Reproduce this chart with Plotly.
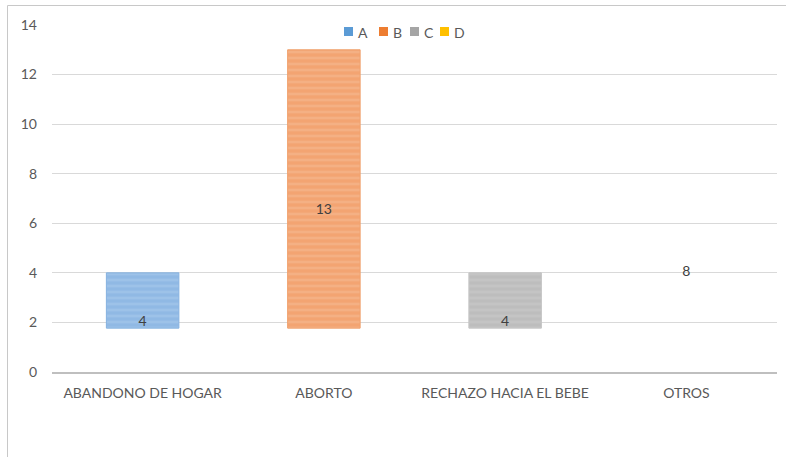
import plotly.graph_objects as go

categories = ["ABANDONO DE HOGAR", "ABORTO", "RECHAZO HACIA EL BEBE", "OTROS"]
series_names = ["A", "B", "C", "D"]
values = [4, 13, 4, 8]
label_text = ["4", "13", "4", "8"]
y_ticks = [0, 2, 4, 6, 8, 10, 12, 14]

legend_colors = ["#5b9bd5", "#ed7d31", "#a5a5a5", "#ffc000"]
fill_colors = ["#90b9e4", "#f3a472", "#bdbdbd", "rgba(0,0,0,0)"]
stripe_colors = ["#a9cbec", "#f6bb95", "#cbcbcb", "rgba(0,0,0,0)"]
edge_colors = ["#85b1e0", "#f0a06c", "#c4c4c4", "rgba(0,0,0,0)"]
visible_bar = [True, True, True, False]

BASE = 1.77
FONT = "Lato, 'Open Sans', sans-serif"

W, H = 786, 457
ML, MR, MT, MB = 52, 9, 25, 85
PW, PH = W - ML - MR, H - MT - MB


def px_x(p):
    return (p - ML) / PW


def px_y(p):
    return (H - MB - p) / PH


fig = go.Figure()
for i, name in enumerate(series_names):
    fig.add_trace(go.Bar(
        x=[categories[i]],
        y=[values[i] - BASE] if visible_bar[i] else [None],
        base=BASE,
        name=name,
        width=0.4,
        showlegend=False,
        marker=dict(
            color=fill_colors[i] if visible_bar[i] else legend_colors[i],
            line=dict(color=edge_colors[i], width=1),
            pattern=dict(shape="-", fgcolor=stripe_colors[i], size=6, solidity=0.45, fillmode="overlay") if visible_bar[i] else None,
        ),
        hoverinfo="skip",
    ))

fig.add_trace(go.Scatter(
    x=categories,
    y=[v / 2 for v in values],
    mode="text",
    text=label_text,
    textposition="middle center",
    textfont=dict(family=FONT, size=14, color="#404040"),
    showlegend=False,
    hoverinfo="skip",
))

# outer chart border (left and top edges visible in reference)
border = dict(color="#c8c8c8", width=1)
shapes = [
    dict(type="line", xref="paper", yref="paper", x0=px_x(7.5), x1=px_x(7.5),
         y0=px_y(H), y1=px_y(5.5), line=border, layer="above"),
    dict(type="line", xref="paper", yref="paper", x0=px_x(7.5), x1=px_x(W),
         y0=px_y(5.5), y1=px_y(5.5), line=border, layer="above"),
]

# compact legend (swatch + label)
legend_x = [344, 379, 410, 440]
annotations = []
for i, name in enumerate(series_names):
    x0 = legend_x[i]
    shapes.append(dict(
        type="rect", xref="paper", yref="paper",
        x0=px_x(x0), x1=px_x(x0 + 9), y0=px_y(36), y1=px_y(27),
        line=dict(width=0), fillcolor=legend_colors[i],
    ))
    annotations.append(dict(
        xref="paper", yref="paper", x=px_x(x0 + 12), y=px_y(32),
        xanchor="left", yanchor="middle", text=name, showarrow=False,
        font=dict(family=FONT, size=14, color="#595959"),
    ))

fig.update_layout(
    width=W, height=H,
    margin=dict(l=ML, r=MR, t=MT, b=MB, autoexpand=False),
    paper_bgcolor="white", plot_bgcolor="white",
    barmode="overlay",
    showlegend=False,
    font=dict(family=FONT, size=14, color="#595959"),
    xaxis=dict(
        type="category", categoryorder="array", categoryarray=categories,
        showgrid=False, showline=True, linecolor="#bfbfbf", linewidth=2,
        ticks="", tickfont=dict(size=14, color="#595959"),
        ticklabelstandoff=7, zeroline=False, automargin=False,
    ),
    yaxis=dict(
        range=[0, 14], tickvals=y_ticks, showgrid=True, gridcolor="#d9d9d9",
        gridwidth=1, zeroline=False, showline=False, ticks="",
        tickfont=dict(size=14, color="#595959"), ticklabelstandoff=14,
        automargin=False,
    ),
    shapes=shapes,
    annotations=annotations,
)

fig.write_html("out.html", config={"displayModeBar": False},
               post_script="document.body.style.margin='0px';")
